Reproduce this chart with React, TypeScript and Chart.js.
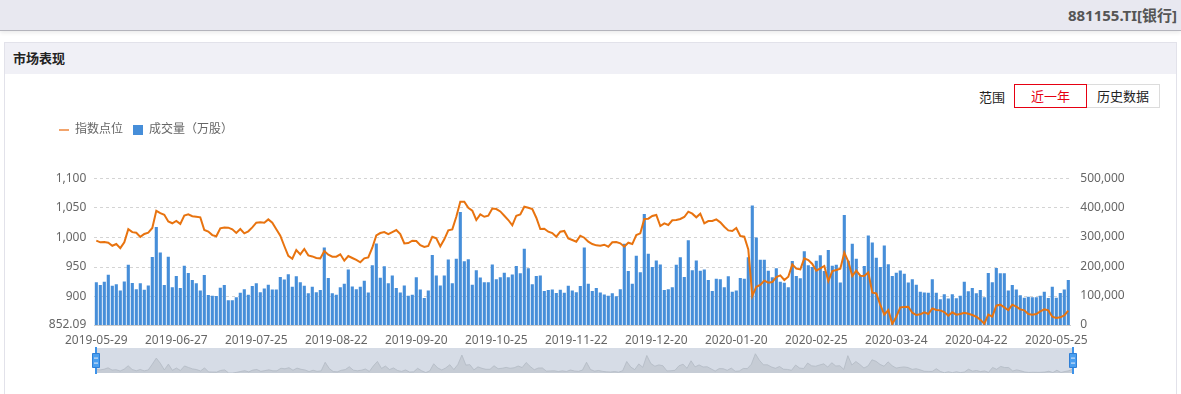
import React, { useEffect, useRef } from "react";
import { Chart, registerables } from "chart.js";

Chart.register(...registerables);

const FONT = '"Noto Sans", "Noto Sans CJK SC", sans-serif';

// Trading days (month -> day numbers), 2019-05-29 .. 2020-05-28
const TRADING_DAYS: [string, number[]][] = [
  ["2019-05", [29, 30, 31]],
  ["2019-06", [3, 4, 5, 6, 10, 11, 12, 13, 14, 17, 18, 19, 20, 21, 24, 25, 26, 27, 28]],
  ["2019-07", [1, 2, 3, 4, 5, 8, 9, 10, 11, 12, 15, 16, 17, 18, 19, 22, 23, 24, 25, 26, 29, 30, 31]],
  ["2019-08", [1, 2, 5, 6, 7, 8, 9, 12, 13, 14, 15, 16, 19, 20, 21, 22, 23, 26, 27, 28, 29, 30]],
  ["2019-09", [2, 3, 4, 5, 6, 9, 10, 11, 12, 16, 17, 18, 19, 20, 23, 24, 25, 26, 27, 30]],
  ["2019-10", [8, 9, 10, 11, 14, 15, 16, 17, 18, 21, 22, 23, 24, 25, 28, 29, 30, 31]],
  ["2019-11", [1, 4, 5, 6, 7, 8, 11, 12, 13, 14, 15, 18, 19, 20, 21, 22, 25, 26, 27, 28, 29]],
  ["2019-12", [2, 3, 4, 5, 6, 9, 10, 11, 12, 13, 16, 17, 18, 19, 20, 23, 24, 25, 26, 27, 30, 31]],
  ["2020-01", [2, 3, 6, 7, 8, 9, 10, 13, 14, 15, 16, 17, 20, 21, 22, 23]],
  ["2020-02", [3, 4, 5, 6, 7, 10, 11, 12, 13, 14, 17, 18, 19, 20, 21, 24, 25, 26, 27, 28]],
  ["2020-03", [2, 3, 4, 5, 6, 9, 10, 11, 12, 13, 16, 17, 18, 19, 20, 23, 24, 25, 26, 27, 30, 31]],
  ["2020-04", [1, 2, 3, 7, 8, 9, 10, 13, 14, 15, 16, 17, 20, 21, 22, 23, 24, 27, 28, 29, 30]],
  ["2020-05", [6, 7, 8, 11, 12, 13, 14, 15, 18, 19, 20, 21, 22, 25, 26, 27, 28]],
];

const DATES: string[] = TRADING_DAYS.flatMap(([m, days]) =>
  days.map((d) => `${m}-${String(d).padStart(2, "0")}`)
);

// 指数点位
const INDEX_POINTS: number[] = [
  994.6, 991.8, 992.3, 991.2, 986, 989, 982, 992, 1014, 1009,
  1008, 1001, 1006, 1008, 1016, 1045, 1041, 1038.5, 1027, 1024,
  1028, 1023, 1037, 1039, 1036, 1035, 1034, 1012.6, 1010, 1004,
  1002, 1015.5, 1017, 1016.6, 1013.8, 1007.6, 1014.3, 1007, 1010.4, 1017,
  1025, 1025.6, 1025, 1030.6, 1025, 1014, 1003, 985.6, 969, 964,
  978.8, 971.5, 980.5, 969.8, 968, 965.3, 964.7, 977, 971, 967.5,
  967.5, 971.5, 960.8, 968.7, 965.3, 962, 958, 964.7, 966.4, 982.7,
  1003.6, 1007.5, 1009.2, 1005.8, 1009.2, 1012.6, 1005.8, 990, 990.6, 994.6,
  994, 987, 983.9, 985.6, 1001.3, 998.5, 985, 996.8, 1012, 1013.7,
  1035, 1060.5, 1060.5, 1050.3, 1045.3, 1029.5, 1039, 1035, 1036.8, 1049,
  1048, 1044, 1036.8, 1029.5, 1020.5, 1036.8, 1039, 1052, 1050.3, 1048,
  1033.4, 1014.3, 1014.9, 1009.8, 1007.5, 1001.3, 1009.8, 1011, 998.5, 995.7,
  992.9, 1003, 999.6,
  992.9, 988.9, 986.7, 986.1, 987.8, 984.4, 991.8, 992.3, 990.1, 984.4,
  991.2, 988.9, 1004.2, 1007, 1031.2, 1031.8, 1036.3, 1038, 1019.4, 1023.9,
  1021.1, 1029, 1029.5, 1031.2, 1034.6, 1043.6, 1040.2, 1034, 1040.2, 1023.9,
  1027.8, 1027.8, 1030.6, 1025.6, 1018.2, 1012, 1010.9, 1016, 1002.5, 1001.3,
  979.9,
  901.1, 916.8, 919.7, 927, 923.6, 924.7, 933.2, 936, 928.1, 933.7,
  954.6, 947.3, 946.1, 964.7, 961.9, 955.2, 943.9, 947.8, 951.8, 926.4,
  943.3, 945, 947.3, 974.3, 959.1, 934.9, 943.9, 935.4, 934.9, 941.1,
  906.7, 905.6, 885.9, 869.5, 877.4, 853.8, 866.1, 881.9, 882.5, 883,
  872.9,
  869, 870.1, 873.5, 870.7, 880.2, 877.4, 876.8, 874, 867.8, 873.5,
  869.5, 870.7, 872.9, 871.2, 869, 866.1, 861.1, 854.3, 869.5, 866.1,
  884.7, 886.4, 881.9, 877.4, 886.4, 883, 878.5, 876.8, 870.7, 869.5,
  870.7, 875.2, 878.5, 876.8, 866.1, 863.9, 865, 868.4, 876.3,
];

// 成交量（万股）
const VOLUME: number[] = [
  146000, 136000, 147000, 171000, 134000, 139000, 118000, 148000, 205000, 143000,
  122000, 142000, 120000, 135000, 232000, 334000, 247000, 136000, 233000, 129000,
  167000, 126000, 202000, 177000, 153000, 142000, 118000, 170000, 102000, 100000,
  99000, 127000, 136000, 84000, 84000, 95000, 110000, 122000, 103000, 133000,
  142000, 112000, 124000, 137000, 121000, 121000, 164000, 155000, 173000, 130000,
  166000, 146000, 134000, 108000, 130000, 112000, 119000, 264000, 160000, 108000,
  103000, 129000, 141000, 189000, 131000, 122000, 130000, 151000, 111000, 204000,
  278000, 161000, 200000, 142000, 169000, 126000, 111000, 135000, 100000, 103000,
  163000, 121000, 92000, 118000, 239000, 169000, 135000, 169000, 223000, 142000,
  226000, 385000, 217000, 224000, 137000, 187000, 162000, 146000, 146000, 206000,
  156000, 163000, 178000, 163000, 172000, 201000, 176000, 260000, 193000, 139000,
  167000, 169000, 116000, 119000, 121000, 109000, 120000, 110000, 134000, 118000,
  112000, 133000, 264000,
  141000, 116000, 126000, 111000, 104000, 100000, 108000, 98000, 122000, 277000,
  184000, 141000, 236000, 180000, 378000, 243000, 198000, 220000, 206000, 119000,
  122000, 129000, 205000, 231000, 164000, 289000, 187000, 220000, 185000, 189000,
  153000, 116000, 158000, 156000, 129000, 166000, 113000, 118000, 160000, 158000,
  231000,
  407000, 298000, 222000, 222000, 185000, 163000, 193000, 147000, 144000, 129000,
  218000, 167000, 159000, 251000, 204000, 198000, 219000, 238000, 184000, 256000,
  202000, 205000, 145000, 375000, 219000, 277000, 226000, 168000, 201000, 305000,
  281000, 229000, 198000, 271000, 207000, 167000, 178000, 186000, 175000, 145000,
  156000,
  137000, 113000, 111000, 110000, 156000, 110000, 88000, 105000, 90000, 105000,
  91000, 100000, 147000, 115000, 126000, 108000, 119000, 95000, 177000, 146000,
  194000, 176000, 176000, 118000, 136000, 121000, 101000, 93000, 96000, 95000,
  95000, 100000, 113000, 92000, 130000, 93000, 109000, 121000, 153000,
];

const LEFT_TICKS: number[] = [852.09, 900, 950, 1000, 1050, 1100];
const RIGHT_TICKS: number[] = [0, 100000, 200000, 300000, 400000, 500000];
const LABEL_EVERY = 20;

const SERIES_NAMES = ["指数点位", "成交量（万股）"];
const LINE_COLOR = "#e8730f";
const LEGEND_LINE_COLOR = "#f2a46c";
const BAR_COLOR = "#468ed9";
const AXIS_TEXT = "#666";

const fmt = (v: number) =>
  v === LEFT_TICKS[0] ? "852.09" : Number(v).toLocaleString("en-US");

const legendSpacer = {
  id: "legendSpacer",
  beforeLayout(chart: any) {
    const lg = chart.legend;
    if (lg && !lg._spaced) {
      const fit = lg.fit.bind(lg);
      lg.fit = function () {
        fit();
        this.height += 32.3;
      };
      lg._spaced = true;
    }
  },
};

const sliderDecor = {
  id: "sliderDecor",
  beforeDraw(chart: any) {
    const { ctx, chartArea: a } = chart;
    ctx.save();
    ctx.fillStyle = "#d6dce6";
    ctx.fillRect(a.left, a.top, a.right - a.left, a.bottom - a.top);
    ctx.restore();
  },
  afterDraw(chart: any) {
    const { ctx, chartArea: a } = chart;
    const cy = (a.top + a.bottom) / 2;
    ctx.save();
    for (const x of [a.left, a.right]) {
      ctx.fillStyle = "#3d93ea";
      ctx.fillRect(x - 1, a.top - 1, 2, a.bottom - a.top + 2);
      ctx.fillStyle = "#4a9ff0";
      ctx.strokeStyle = "#2f7fd6";
      ctx.lineWidth = 1;
      ctx.beginPath();
      ctx.rect(x - 3.5, cy - 7, 7, 14);
      ctx.fill();
      ctx.stroke();
      ctx.fillStyle = "rgba(220,230,245,0.9)";
      ctx.fillRect(x - 2, cy - 3, 4, 1.2);
      ctx.fillRect(x - 2, cy + 2, 4, 1.2);
    }
    ctx.restore();
  },
};

export default function App() {
  const mainRef = useRef<HTMLCanvasElement>(null);
  const sliderRef = useRef<HTMLCanvasElement>(null);

  useEffect(() => {
    if (!mainRef.current || !sliderRef.current) return;
    const main = new Chart(mainRef.current, {
      type: "bar",
      data: {
        labels: DATES,
        datasets: [
          {
            type: "line",
            label: SERIES_NAMES[0],
            data: INDEX_POINTS,
            yAxisID: "yIndex",
            borderColor: LINE_COLOR,
            backgroundColor: LINE_COLOR,
            borderWidth: 2,
            pointRadius: 0,
            tension: 0,
            order: 0,
          } as any,
          {
            type: "bar",
            label: SERIES_NAMES[1],
            data: VOLUME,
            yAxisID: "yVol",
            backgroundColor: BAR_COLOR,
            categoryPercentage: 1,
            barPercentage: 0.78,
            order: 1,
          },
        ],
      },
      options: {
        animation: false,
        responsive: false,
        maintainAspectRatio: false,
        layout: { padding: { left: 49, top: 14, right: 0, bottom: 0 } },
        plugins: {
          tooltip: { enabled: false },
          legend: {
            position: "top",
            align: "start",
            labels: {
              font: { size: 12, family: FONT },
              color: AXIS_TEXT,
              usePointStyle: true,
              boxWidth: 10,
              boxHeight: 10,
              pointStyleWidth: 10,
              padding: 10,
              generateLabels: () => [
                {
                  text: SERIES_NAMES[0],
                  fillStyle: LEGEND_LINE_COLOR,
                  strokeStyle: LEGEND_LINE_COLOR,
                  lineWidth: 2,
                  pointStyle: "line",
                  hidden: false,
                  datasetIndex: 0,
                  fontColor: AXIS_TEXT,
                },
                {
                  text: SERIES_NAMES[1],
                  fillStyle: BAR_COLOR,
                  strokeStyle: BAR_COLOR,
                  lineWidth: 0,
                  pointStyle: "rect",
                  hidden: false,
                  datasetIndex: 1,
                  fontColor: AXIS_TEXT,
                },
              ],
            },
          },
        },
        scales: {
          x: {
            grid: { display: false, drawTicks: false },
            border: { display: true, color: "#cccccc" },
            ticks: {
              autoSkip: false,
              maxRotation: 0,
              minRotation: 0,
              padding: 8,
              color: AXIS_TEXT,
              font: { size: 12, family: FONT },
              callback: (_v: any, i: number) => (i % LABEL_EVERY === 0 ? DATES[i] : ""),
            },
            afterFit: (s: any) => {
              s.height = 25;
            },
          },
          yIndex: {
            position: "left",
            min: LEFT_TICKS[0],
            max: LEFT_TICKS[LEFT_TICKS.length - 1],
            afterBuildTicks: (s: any) => {
              s.ticks = LEFT_TICKS.map((v) => ({ value: v }));
            },
            afterFit: (s: any) => {
              s.width = 45.3;
            },
            grid: {
              drawTicks: false,
              color: (c: any) =>
                c.tick && c.tick.value === LEFT_TICKS[0] ? "rgba(0,0,0,0)" : "#d4d4d4",
            },
            border: { display: false, dash: [3, 3] },
            ticks: {
              padding: 8,
              color: AXIS_TEXT,
              font: { size: 12, family: FONT },
              callback: (v: any) => fmt(Number(v)),
            },
          },
          yVol: {
            position: "right",
            min: RIGHT_TICKS[0],
            max: RIGHT_TICKS[RIGHT_TICKS.length - 1],
            afterBuildTicks: (s: any) => {
              s.ticks = RIGHT_TICKS.map((v) => ({ value: v }));
            },
            afterFit: (s: any) => {
              s.width = 110.7;
            },
            grid: { display: false, drawTicks: false },
            border: { display: false },
            ticks: {
              padding: 10,
              color: AXIS_TEXT,
              font: { size: 12, family: FONT },
              callback: (v: any) => Number(v).toLocaleString("en-US"),
            },
          },
        },
      } as any,
      plugins: [legendSpacer],
    });

    const vMin = Math.min(...VOLUME);
    const vMax = Math.max(...VOLUME);
    const slider = new Chart(sliderRef.current, {
      type: "line",
      data: {
        labels: DATES,
        datasets: [
          {
            data: VOLUME,
            borderColor: "#b3bac4",
            borderWidth: 0.8,
            backgroundColor: "#c6ccd5",
            fill: "start",
            pointRadius: 0,
            tension: 0,
          },
        ],
      },
      options: {
        animation: false,
        responsive: false,
        maintainAspectRatio: false,
        layout: { padding: { left: 8, right: 8, top: 5, bottom: 5 } },
        plugins: { legend: { display: false }, tooltip: { enabled: false } },
        scales: {
          x: { display: false, offset: false },
          y: { display: false, min: vMin, max: vMax + (vMax - vMin) * 0.3 },
        },
      } as any,
      plugins: [sliderDecor],
    });

    return () => {
      main.destroy();
      slider.destroy();
    };
  }, []);

  return (
    <div
      style={{
        position: "absolute",
        left: 0,
        top: 0,
        width: 1181,
        height: 394,
        overflow: "hidden",
        background: "#fff",
        fontFamily: FONT,
      }}
    >
      <div
        style={{
          position: "absolute",
          left: 0,
          top: 0,
          width: 1181,
          height: 30,
          background: "#e8e8f0",
          borderBottom: "1px solid #b4b4bc",
          boxShadow: "0 2px 4px rgba(0,0,0,0.08)",
        }}
      >
        <span
          style={{
            position: "absolute",
            right: 4,
            top: 0,
            lineHeight: "30px",
            fontSize: 15,
            fontWeight: "bold",
            color: "#555",
          }}
        >
          881155.TI[银行]
        </span>
      </div>
      <div
        style={{
          position: "absolute",
          left: 4,
          top: 42,
          width: 1173,
          height: 400,
          border: "1px solid #e2e2ea",
          boxSizing: "border-box",
        }}
      >
        <div
          style={{
            height: 31,
            background: "#f0f0f6",
            lineHeight: "31px",
            paddingLeft: 8,
            fontSize: 13,
            fontWeight: "bold",
            color: "#222",
          }}
        >
          市场表现
        </div>
      </div>
      <span
        style={{
          position: "absolute",
          left: 979,
          top: 88,
          lineHeight: "18px",
          fontSize: 13,
          color: "#222",
        }}
      >
        范围
      </span>
      <div
        style={{
          position: "absolute",
          left: 1014,
          top: 84,
          width: 73,
          height: 24,
          boxSizing: "border-box",
          border: "1px solid #e60012",
          color: "#e60012",
          fontSize: 13,
          lineHeight: "22px",
          textAlign: "center",
        }}
      >
        近一年
      </div>
      <div
        style={{
          position: "absolute",
          left: 1087,
          top: 84,
          width: 73,
          height: 24,
          boxSizing: "border-box",
          border: "1px solid #dcdcdc",
          borderLeft: "none",
          color: "#222",
          fontSize: 13,
          lineHeight: "22px",
          textAlign: "center",
        }}
      >
        历史数据
      </div>
      <canvas
        ref={mainRef}
        width={1181}
        height={250}
        style={{ position: "absolute", left: 0, top: 100, width: 1181, height: 250 }}
      />
      <canvas
        ref={sliderRef}
        width={993}
        height={35}
        style={{ position: "absolute", left: 88, top: 343, width: 993, height: 35 }}
      />
    </div>
  );
}
